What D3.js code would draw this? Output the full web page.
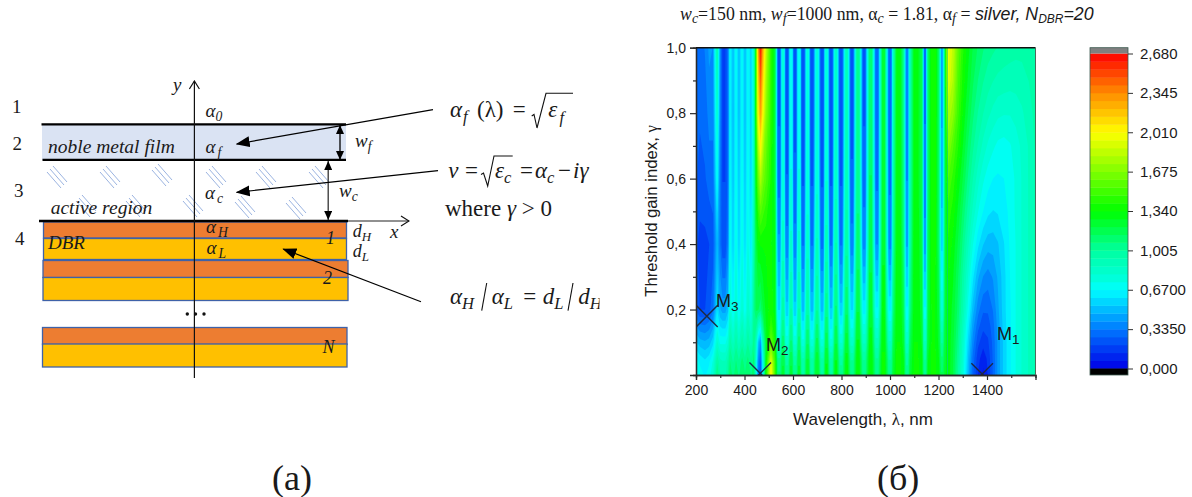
<!DOCTYPE html>
<html>
<head>
<meta charset="utf-8">
<script src="https://cdn.jsdelivr.net/npm/d3@7"></script>
<style>
  html, body { margin: 0; padding: 0; background: #fff; }
  svg { display: block; }
  text { font-family: "Liberation Serif", serif; fill: #1a1a1a; }
  .sans text, text.sans { font-family: "Liberation Sans", Arial, sans-serif; }
</style>
</head>
<body>
<div id="chart"></div>
<script>
// tick labels
const xTicks = [200, 400, 600, 800, 1000, 1200, 1400]
const xMinor = [300, 500, 700, 900, 1100, 1300, 1500]
const yTicks = [0.2, 0.4, 0.6, 0.8, 1.0]
const yMinor = [0.1, 0.3, 0.5, 0.7, 0.9]
const barTicks = [
  [0, '0,000'], [0.335, '0,3350'], [0.67, '0,6700'], [1.005, '1,005'], [1.34, '1,340'],
  [1.675, '1,675'], [2.01, '2,010'], [2.345, '2,345'], [2.68, '2,680']
]
const barMax = 2.68
const barStep = 0.067

// colour map stops of the bar
const colorValues = [0, 0.335, 0.67, 0.78, 1.005, 1.34, 2.01, 2.345, 2.68]
const colorStops = ['#0000e8', '#0078ff', '#00ffff', '#00ffd8', '#00ffa0', '#00ff00', '#ffff00', '#ff8c00', '#ff0000']

// wavelengths (nm) of the striped part, read at stripe peaks and valleys
const stripeLambda = [
  200, 216, 237, 254, 270, 287, 299, 315, 332,
  340, 353, 365, 377, 390, 402, 414, 427, 439,
  447, 456, 466, 476, 489, 509, 526,
  542, 559, 575, 592, 608, 625, 641, 660, 678, 699, 720, 738, 757, 777, 798, 821, 843, 868, 893, 920, 946, 973, 1000,
  1012, 1035, 1057, 1070, 1082, 1107, 1132, 1144, 1156, 1179, 1202, 1214, 1227,
  1239
]
// half width (nm) of the flat top or bottom of each stripe
const stripeFlat = [
  0, 0, 0, 0, 0, 0, 0, 6, 0,
  0, 0, 0, 0, 0, 0, 0, 0, 0,
  0, 0, 0, 0, 0, 0, 0,
  5, 4, 5, 4, 5, 4, 5, 4, 5, 4, 5, 4, 5, 4, 5, 4, 5, 5, 5, 5, 5, 5, 5,
  0, 8, 0, 4, 0, 8, 0, 4, 0, 8, 0, 3, 0,
  0
]
const stripeGamma = [1.0, 0.8, 0.6, 0.4, 0.2, 0.1, 0.04, 0]
const stripe100 = [
  .32,.3,.34,.42,.4,.98,.42,.2,.32,
  .70,.5,.72,.5,.70,.5,.70,.55,.85,
  1.35,2.25,2.65,2.25,1.85,1.45,1.2,
  .26,.74,.24,.72,.25,.72,.22,.74,.22,.76,.22,.78,.22,.82,.22,.88,.24,1.02,.26,1.12,.28,1.22,.28,
  .8,1.3,1.0,.36,.9,1.3,1.15,.33,1.1,1.4,1.1,.46,1.2,
  2.0]
const stripe080 = [
  .3,.28,.3,.36,.36,.85,.4,.2,.3,
  .68,.5,.70,.5,.70,.5,.70,.55,.85,
  1.4,2.0,2.3,2.0,1.7,1.45,1.2,
  .26,.74,.24,.72,.25,.72,.22,.74,.22,.76,.22,.78,.22,.82,.22,.88,.24,1.02,.26,1.12,.28,1.22,.28,
  .85,1.3,1.0,.36,.9,1.3,1.15,.33,1.1,1.4,1.1,.46,1.2,
  1.85]
const stripe060 = [
  .28,.24,.26,.3,.3,.72,.36,.2,.3,
  .7,.52,.72,.53,.72,.53,.72,.57,.9,
  1.3,1.6,1.8,1.65,1.55,1.4,1.22,
  .3,.74,.27,.74,.28,.74,.26,.76,.26,.78,.26,.8,.26,.84,.26,.9,.28,1.04,.3,1.14,.32,1.24,.32,
  .88,1.3,1.02,.4,.92,1.3,1.15,.36,1.1,1.38,1.1,.5,1.2,
  1.5]
const stripe040 = [
  .22,.18,.18,.2,.24,.5,.34,.22,.36,
  .72,.56,.75,.56,.75,.58,.76,.62,.95,
  1.2,1.32,1.35,1.35,1.35,1.35,1.28,
  .42,.84,.36,.82,.36,.82,.33,.84,.33,.88,.32,.9,.33,.94,.33,.98,.36,1.1,.38,1.18,.4,1.26,.38,
  .92,1.32,1.05,.46,.95,1.32,1.18,.43,1.15,1.36,1.1,.58,1.2,
  1.38]
const stripe020 = [
  .26,.2,.2,.24,.32,.6,.48,.44,.52,
  .8,.66,.82,.66,.82,.68,.85,.74,1.05,
  1.15,1.15,1.1,1.2,1.3,1.38,1.3,
  .6,.96,.56,.94,.56,.94,.52,.98,.52,1.0,.52,1.04,.54,1.08,.56,1.12,.6,1.2,.64,1.24,.68,1.3,.66,
  1.05,1.33,1.15,.68,1.05,1.33,1.22,.68,1.18,1.34,1.2,.8,1.22,
  1.33]
const stripe010 = [
  .55,.5,.48,.5,.58,.82,.72,.72,.8,
  .98,.86,.98,.86,.98,.88,1.0,.9,1.05,
  .9,.55,.4,.9,1.25,1.6,1.4,
  .82,1.1,.78,1.08,.78,1.1,.76,1.13,.76,1.16,.76,1.18,.76,1.2,.8,1.24,.84,1.28,.86,1.3,.9,1.33,.88,
  1.15,1.34,1.22,.86,1.15,1.34,1.26,.88,1.22,1.34,1.25,1.0,1.24,
  1.33]
const stripe004 = [
  .7,.66,.62,.66,.75,1.0,.9,.88,.98,
  1.08,1.0,1.08,1.02,1.1,1.04,1.1,1.02,1.1,
  .8,.4,.25,.7,1.35,1.95,1.5,
  1.05,1.2,1.0,1.2,1.0,1.2,.98,1.22,.98,1.25,.98,1.27,.98,1.28,1.0,1.3,1.02,1.32,1.02,1.33,1.03,1.35,1.02,
  1.2,1.35,1.28,1.0,1.2,1.35,1.3,1.02,1.27,1.35,1.28,1.1,1.25,
  1.33]
const stripe000 = [
  .72,.7,.66,.7,.8,1.08,.95,.92,1.02,
  1.12,1.05,1.12,1.06,1.14,1.08,1.14,1.06,1.12,
  .8,.35,.2,.7,1.4,2.05,1.5,
  1.08,1.22,1.02,1.22,1.02,1.22,1.0,1.24,1.0,1.27,1.0,1.29,1.0,1.3,1.02,1.32,1.04,1.33,1.04,1.34,1.05,1.36,1.04,
  1.22,1.36,1.3,1.02,1.22,1.36,1.3,1.05,1.28,1.36,1.3,1.15,1.26,
  1.33]
const stripeRows = [stripe100, stripe080, stripe060, stripe040, stripe020, stripe010, stripe004, stripe000]

// the M1 lobe on the right
const lobeLambda = [1239, 1260, 1280, 1301, 1322, 1342, 1363, 1384, 1404, 1425, 1445, 1470, 1495, 1519, 1544, 1573, 1600]
const lobeGamma = [1.0, 0.9, 0.8, 0.7, 0.6, 0.5, 0.4, 0.3, 0.2, 0.15, 0.1, 0.05, 0]
const lobeRows = [
  [2.0,1.85,1.6,1.42,1.3,1.2,1.13,1.08,1.04,1.02,1.0,.98,.97,.96,.96,.97,.98],
  [1.95,1.8,1.55,1.38,1.26,1.15,1.07,1.01,.97,.94,.92,.91,.9,.9,.91,.94,.97],
  [1.8,1.7,1.5,1.33,1.2,1.09,1.0,.94,.89,.85,.82,.81,.81,.83,.86,.91,.96],
  [1.7,1.55,1.42,1.27,1.13,1.02,.93,.85,.79,.75,.72,.71,.73,.77,.82,.88,.95],
  [1.55,1.45,1.33,1.2,1.06,.94,.83,.75,.7,.67,.66,.67,.7,.75,.81,.88,.95],
  [1.45,1.38,1.26,1.12,.98,.85,.74,.67,.62,.6,.61,.64,.69,.75,.81,.88,.95],
  [1.4,1.32,1.2,1.05,.89,.74,.62,.54,.5,.5,.53,.6,.68,.74,.81,.88,.95],
  [1.35,1.28,1.15,.98,.8,.62,.48,.4,.37,.41,.48,.58,.67,.74,.81,.88,.95],
  [1.33,1.25,1.12,.93,.71,.5,.36,.28,.28,.34,.45,.58,.66,.74,.81,.88,.95],
  [1.33,1.24,1.09,.88,.64,.43,.29,.22,.23,.31,.43,.57,.66,.74,.81,.88,.95],
  [1.33,1.22,1.06,.84,.58,.37,.22,.16,.19,.29,.42,.56,.66,.74,.81,.88,.95],
  [1.33,1.21,1.03,.81,.53,.31,.16,.09,.15,.28,.42,.56,.66,.74,.81,.88,.95],
  [1.33,1.2,1.0,.78,.5,.28,.13,.05,.14,.28,.42,.56,.66,.74,.81,.88,.95]
]

// cross markers
const markerNames = ['M3', 'M2', 'M1']
const markerLambda = [245, 465, 1380]
const markerGamma = [0.18, 0.005, 0.003]

const width = 1192, height = 497
const svg = d3.select('#chart').append('svg').attr('width', width).attr('height', height)
const defs = svg.append('defs')

// ---------- right panel: heat map ----------
const x = d3.scaleLinear().domain([200, 1600]).range([696, 1035.5])
const y = d3.scaleLinear().domain([0, 1]).range([375, 47.7])
const color = d3.scaleLinear().domain(colorValues).range(colorStops)
const levels = d3.range(0, barMax - 1e-6, barStep)

defs.append('clipPath').attr('id', 'plotClip').append('rect')
  .attr('x', x(200)).attr('y', y(1)).attr('width', x(1600) - x(200)).attr('height', y(0) - y(1))
defs.append('filter').attr('id', 'soft').attr('x', 0).attr('y', 0).attr('width', 1).attr('height', 1)
  .append('feGaussianBlur').attr('stdDeviation', 0.3)

const plot = svg.append('g').attr('clip-path', 'url(#plotClip)')
const heat = plot.append('g').attr('filter', 'url(#soft)')
heat.append('rect').attr('x', x(200)).attr('y', y(1))
  .attr('width', x(1600) - x(200)).attr('height', y(0) - y(1)).attr('fill', '#00ff60')

function drawBlock(lambdas, gammas, rows) {
  const n = lambdas.length, m = gammas.length
  rows.forEach(r => { if (r.length != n) throw new Error('bad row length ' + r.length) })
  const toLam = d3.scaleLinear().domain(d3.range(n)).range(lambdas).clamp(true)
  const toGam = d3.scaleLinear().domain(d3.range(m)).range(gammas).clamp(true)
  const bands = d3.contours().size([n, m]).thresholds(levels)(rows.flat())
  const path = c => c.coordinates.map(poly => poly.map(ring =>
    'M' + ring.map(p => x(toLam(p[0] - 0.5)).toFixed(2) + ',' + y(toGam(p[1] - 0.5)).toFixed(2)).join('L') + 'Z'
  ).join('')).join('')
  heat.append('g').selectAll('path')
    .data(bands)
    .join('path')
    .attr('d', path)
    .attr('fill-rule', 'evenodd')
    .attr('fill', d => color(d.value + barStep / 2))
}

// a stripe with a flat part becomes two equal columns
const keep = stripeLambda.flatMap((d, i) => stripeFlat[i] > 0 ? [i, i] : [i])
const wideLambda = stripeLambda.flatMap((d, i) => stripeFlat[i] > 0 ? [d - stripeFlat[i], d + stripeFlat[i]] : [d])
const wideRows = stripeRows.map(r => keep.map(i => r[i]))
drawBlock(wideLambda, stripeGamma, wideRows)
drawBlock(lobeLambda, lobeGamma, lobeRows)

// crosses
plot.append('g').selectAll('path')
  .data(markerNames)
  .join('path')
  .attr('d', (d, i) => {
    const cx = x(markerLambda[i]), cy = y(markerGamma[i]), s = 10.8
    return `M${cx - s},${cy - s}L${cx + s},${cy + s}M${cx - s},${cy + s}L${cx + s},${cy - s}`
  })
  .attr('stroke', '#1c2a48').attr('stroke-width', 1.4).attr('fill', 'none')

// axes
const axes = svg.append('g').attr('class', 'sans')
function styleAxis(g) {
  g.selectAll('path.domain').attr('stroke', '#2a2a2a').attr('stroke-width', 1.3)
  g.selectAll('line').attr('stroke', '#2a2a2a').attr('stroke-width', 1.2)
  g.selectAll('text').style('font-size', '14px').attr('fill', '#2b2b2b')
}
axes.append('g').attr('transform', `translate(0,${y(0)})`)
  .call(d3.axisBottom(x).tickValues(xTicks).tickFormat(d3.format('d')).tickSizeOuter(0).tickSize(5).tickPadding(5))
  .call(styleAxis)
axes.append('g').attr('transform', `translate(0,${y(0)})`)
  .call(d3.axisBottom(x).tickValues(xMinor).tickFormat('').tickSizeOuter(0).tickSize(3))
  .call(styleAxis)
axes.append('g').attr('transform', `translate(${x(200)},0)`)
  .call(d3.axisLeft(y).tickValues(yTicks).tickFormat(d => d3.format('.1f')(d).replace('.', ',')).tickSizeOuter(0).tickSize(6).tickPadding(4))
  .call(styleAxis)
axes.append('g').attr('transform', `translate(${x(200)},0)`)
  .call(d3.axisLeft(y).tickValues(yMinor).tickFormat('').tickSizeOuter(0).tickSize(3))
  .call(styleAxis)
// frame: heavy top, thin right
svg.append('line').attr('x1', x(200)).attr('x2', x(1600)).attr('y1', y(1)).attr('y2', y(1))
  .attr('stroke', '#111').attr('stroke-width', 1.5)
svg.append('line').attr('x1', x(1600)).attr('x2', x(1600)).attr('y1', y(1)).attr('y2', y(0))
  .attr('stroke', '#4d6a5c').attr('stroke-width', 1)

axes.append('text').attr('class', 'sans').attr('x', 863).attr('y', 425).attr('text-anchor', 'middle')
  .style('font-size', '17px').attr('fill', '#2b2b2b')
  .html('Wavelength, <tspan style="font-family:\'Liberation Serif\'">λ</tspan>, nm')
axes.append('text').attr('class', 'sans').attr('transform', 'translate(657,211) rotate(-90)').attr('text-anchor', 'middle')
  .style('font-size', '16.7px').attr('fill', '#2b2b2b')
  .html('Threshold gain index, <tspan style="font-family:\'Liberation Serif\'">γ</tspan>')

// marker names
const markerText = [[716, 307, 'M', '3'], [766, 351, 'M', '2'], [997, 340, 'M', '1']]
markerText.forEach(m => {
  const t = axes.append('text').attr('x', m[0]).attr('y', m[1]).style('font-size', '18px').attr('fill', '#20283c').text(m[2])
  t.append('tspan').attr('dy', 4).style('font-size', '13.5px').text(m[3])
})

// colour bar
const barY = d3.scaleLinear().domain([0, barMax]).range([368.5, 53.5])
const bar = svg.append('g')
bar.selectAll('rect.band')
  .data(levels)
  .join('rect')
  .attr('class', 'band')
  .attr('x', 1090).attr('width', 38)
  .attr('y', d => barY(d + barStep)).attr('height', d => barY(d) - barY(d + barStep) + 0.4)
  .attr('fill', d => color(d + barStep / 2))
bar.append('rect').attr('x', 1090).attr('width', 38).attr('y', 47.7).attr('height', barY(barMax) - 47.7).attr('fill', '#808080')
bar.append('rect').attr('x', 1090).attr('width', 38).attr('y', barY(0)).attr('height', 375 - barY(0)).attr('fill', '#000')
bar.append('rect').attr('x', 1090).attr('width', 38).attr('y', 47.7).attr('height', 327.3)
  .attr('fill', 'none').attr('stroke', '#3c5a50').attr('stroke-width', 0.8)
const barAxis = svg.append('g').attr('class', 'sans').attr('transform', 'translate(1128,0)')
  .call(d3.axisRight(barY).tickValues(barTicks.map(d => d[0])).tickFormat((d, i) => barTicks[i][1]).tickSize(5).tickPadding(7).tickSizeOuter(0))
barAxis.select('path.domain').remove()
barAxis.selectAll('line').attr('stroke', '#333')
barAxis.selectAll('text').style('font-size', '15px').attr('fill', '#2b2b2b')

// title
const title = svg.append('text').attr('x', 680).attr('y', 20).style('font-size', '17.8px')
const tp = (s, o) => {
  o = o || {}
  const t = title.append('tspan').text(s)
  if (o.it) t.style('font-style', 'italic')
  if (o.sans) t.style('font-family', '"Liberation Sans"')
  if (o.dy) t.attr('dy', o.dy)
  if (o.size) t.style('font-size', o.size + 'px')
  return t
}
tp('w', { it: 1 }); tp('c', { it: 1, dy: 3, size: 14 }); tp('=150 nm, ', { dy: -3 })
tp('w', { it: 1 }); tp('f', { it: 1, dy: 3, size: 14 }); tp('=1000 nm, ', { dy: -3 })
tp('α'); tp('c', { it: 1, dy: 3, size: 14 }); tp(' = 1.81, ', { dy: -3 })
tp('α'); tp('f', { it: 1, dy: 3, size: 14 }); tp(' = ', { dy: -3 })
tp('silver, N', { it: 1, sans: 1 }); tp('DBR', { it: 1, sans: 1, dy: 3, size: 12 }); tp('=20', { it: 1, sans: 1, dy: -3 })

// ---------- left panel: layer scheme ----------
const scheme = svg.append('g')
const dbrOrange = '#ed7d31', dbrYellow = '#ffc000', dbrEdge = '#3f62a8'

scheme.append('rect').attr('x', 42).attr('y', 124).attr('width', 304).attr('height', 36).attr('fill', '#dae3f3')

// hatching in the active region
const hatches = [[57, 177], [110, 177], [162, 175], [216, 177], [266, 177], [319, 177], [86, 206], [136, 206], [193, 206], [245, 207], [296, 208]]
hatches.forEach(h => {
  [-3, 0, 3].forEach(o => {
    scheme.append('line')
      .attr('x1', h[0] - 7 + o).attr('y1', h[1] - 8 - o)
      .attr('x2', h[0] + 7 + o).attr('y2', h[1] + 8 - o)
      .attr('stroke', '#8faadc').attr('stroke-width', 0.9)
  })
})

const layers = [
  [43.5, 303, 222, 16, dbrOrange], [43.5, 303, 238.5, 21, dbrYellow],
  [43, 305, 260.5, 17, dbrOrange], [43, 305, 277.5, 23, dbrYellow],
  [42.5, 304.5, 327.5, 17, dbrOrange], [42.5, 304.5, 344, 23, dbrYellow]
]
scheme.selectAll('rect.layer').data(layers).join('rect')
  .attr('class', 'layer')
  .attr('x', d => d[0]).attr('width', d => d[1]).attr('y', d => d[2]).attr('height', d => d[3])
  .attr('fill', d => d[4]).attr('stroke', dbrEdge).attr('stroke-width', 1.3)

const arrowDef = (id, open) => {
  const mk = defs.append('marker').attr('id', id).attr('orient', 'auto-start-reverse').attr('markerUnits', 'userSpaceOnUse')
    .attr('viewBox', '0 0 14 12').attr('markerWidth', 14).attr('markerHeight', 12).attr('refX', 13).attr('refY', 6)
  if (open) mk.append('path').attr('d', 'M5,1L13,6L5,11').attr('fill', 'none').attr('stroke', '#111').attr('stroke-width', 1.2)
  else mk.append('path').attr('d', 'M0,0.5L14,6L0,11.5Z').attr('fill', '#000')
}
arrowDef('openHead', true)
arrowDef('solidHead', false)
defs.append('marker').attr('id', 'dimHead').attr('orient', 'auto-start-reverse').attr('markerUnits', 'userSpaceOnUse')
  .attr('viewBox', '0 0 9 8').attr('markerWidth', 9).attr('markerHeight', 8).attr('refX', 9).attr('refY', 4)
  .append('path').attr('d', 'M0,0L9,4L0,8Z').attr('fill', '#000')

const ln = (x1, y1, x2, y2, w, col) => scheme.append('line').attr('x1', x1).attr('y1', y1).attr('x2', x2).attr('y2', y2)
  .attr('stroke', col || '#000').attr('stroke-width', w)

ln(41.5, 124.3, 346, 124.3, 2.2)
ln(42.5, 159.8, 346, 159.8, 2.2)
ln(39, 221, 348, 221, 2.6)
ln(348, 221, 409, 221, 1.1, '#222').attr('marker-end', 'url(#openHead)')
ln(194.4, 378, 194.4, 81, 1.2, '#111').attr('marker-end', 'url(#openHead)')

ln(340, 160, 340, 125, 1.3).attr('marker-end', 'url(#dimHead)').attr('marker-start', 'url(#dimHead)')
ln(328.2, 220, 328.2, 161, 1.3, '#333').attr('marker-end', 'url(#dimHead)').attr('marker-start', 'url(#dimHead)')

ln(433, 109.6, 236.7, 144, 1.2).attr('marker-end', 'url(#solidHead)')
ln(438, 170.7, 236.7, 192.3, 1.2).attr('marker-end', 'url(#solidHead)')
ln(421, 301.7, 283.3, 249, 1.2).attr('marker-end', 'url(#solidHead)')

scheme.selectAll('circle').data([187.3, 195.5, 204]).join('circle')
  .attr('cx', d => d).attr('cy', 314).attr('r', 1.7).attr('fill', '#111')

// plain or subscripted serif labels
function lab(px, py, base, sub, size, o) {
  o = o || {}
  const t = scheme.append('text').attr('x', px).attr('y', py).style('font-size', size + 'px')
    .style('font-style', o.upright ? 'normal' : 'italic').text(base)
  if (o.col) t.attr('fill', o.col)
  if (sub) t.append('tspan').attr('dy', o.dy || 4).attr('dx', o.dx || 0).style('font-size', (size * 0.72) + 'px').text(sub)
  return t
}
lab(12, 113, '1', null, 19, { upright: 1 })
lab(12.5, 150, '2', null, 19, { upright: 1 })
lab(14, 197, '3', null, 19, { upright: 1 })
lab(15, 245, '4', null, 19, { upright: 1 })
lab(173, 91, 'y', null, 19)
lab(390, 238, 'x', null, 19)
lab(205.5, 117, 'α', '0', 19)
lab(205.5, 153, 'α', 'f', 19, { dx: 2 })
lab(205, 199, 'α', 'c', 19, { dx: 2 })
lab(206, 233, 'α', 'H', 19, { dx: 2 })
lab(206.5, 254, 'α', 'L', 19, { dx: 2 })
lab(48, 152.7, 'noble metal film', null, 19.5, { col: '#333' })
lab(50.7, 214, 'active region', null, 19.5, { col: '#333' })
lab(48, 249.3, 'DBR', null, 19, { col: '#333' })
lab(326, 244, '1', null, 18)
lab(323, 284, '2', null, 18)
lab(322.5, 352.7, 'N', null, 18)
lab(355, 147.3, 'w', 'f', 19, { col: '#333' })
lab(339, 197, 'w', 'c', 19, { col: '#333' })
lab(352.7, 236.7, 'd', 'H', 18, { col: '#333' })
lab(352.7, 256.7, 'd', 'L', 18, { col: '#333' })

// formulas
const fs = 23
lab(450, 117.3, 'α', 'f', fs, { dy: 5, dx: 1 })
lab(477, 117.3, '(λ)', null, fs, { upright: 1 })
lab(512.7, 117.3, '=', null, fs, { upright: 1 })
const rootPath = p => scheme.append('path').attr('d', d3.line()(p)).attr('fill', 'none').attr('stroke', '#111').attr('stroke-width', 1.1)
rootPath([[531.7, 116], [534, 114.5], [537, 128], [546, 93.3], [573, 93.3]])
lab(548.3, 117.3, 'ε', 'f', fs, { dy: 6, dx: 2 })

lab(448.3, 178.3, 'ν', null, fs)
lab(465, 178.3, '=', null, fs, { upright: 1 })
rootPath([[481, 174.5], [483.5, 173], [487.7, 186], [494, 156], [512.7, 156]])
lab(495, 178.3, 'ε', 'c', fs, { dy: 5, dx: 0 })
lab(520, 178.3, '=', null, fs, { upright: 1 })
lab(535, 178.3, 'α', 'c', fs, { dy: 5, dx: 0 })
lab(558, 178.3, '−', null, fs, { upright: 1 })
lab(573, 178.3, 'iγ', null, fs)
lab(445, 216, 'where ', null, fs, { upright: 1 })
  .call(t => { t.append('tspan').style('font-style', 'italic').text('γ'); t.append('tspan').text(' > 0') })

defs.append('clipPath').attr('id', 'formulaClip').append('rect').attr('x', 440).attr('y', 270).attr('width', 159.5).attr('height', 50)
const f3 = scheme.append('g').attr('clip-path', 'url(#formulaClip)')
lab(450, 304, 'α', 'H', fs, { dy: 5, dx: 0 })
lab(491.7, 304, 'α', 'L', fs, { dy: 5, dx: 0 })
lab(523.3, 304, '=', null, fs, { upright: 1 })
lab(542.7, 304, 'd', 'L', fs, { dy: 5, dx: 0 })
ln(486.7, 283, 481.7, 310.7, 1.1, '#111')
ln(573, 283, 568, 310.7, 1.1, '#111')
f3.append('text').attr('x', 578.3).attr('y', 304).style('font-size', fs + 'px').style('font-style', 'italic').text('d')
  .append('tspan').attr('dy', 5).style('font-size', (fs * 0.72) + 'px').text('H')

// panel letters
svg.append('text').attr('x', 272).attr('y', 490).style('font-size', '36px').attr('fill', '#111').text('(а)')
svg.append('text').attr('x', 877).attr('y', 490).style('font-size', '36px').attr('fill', '#111').text('(б)')
</script>
</body>
</html>
